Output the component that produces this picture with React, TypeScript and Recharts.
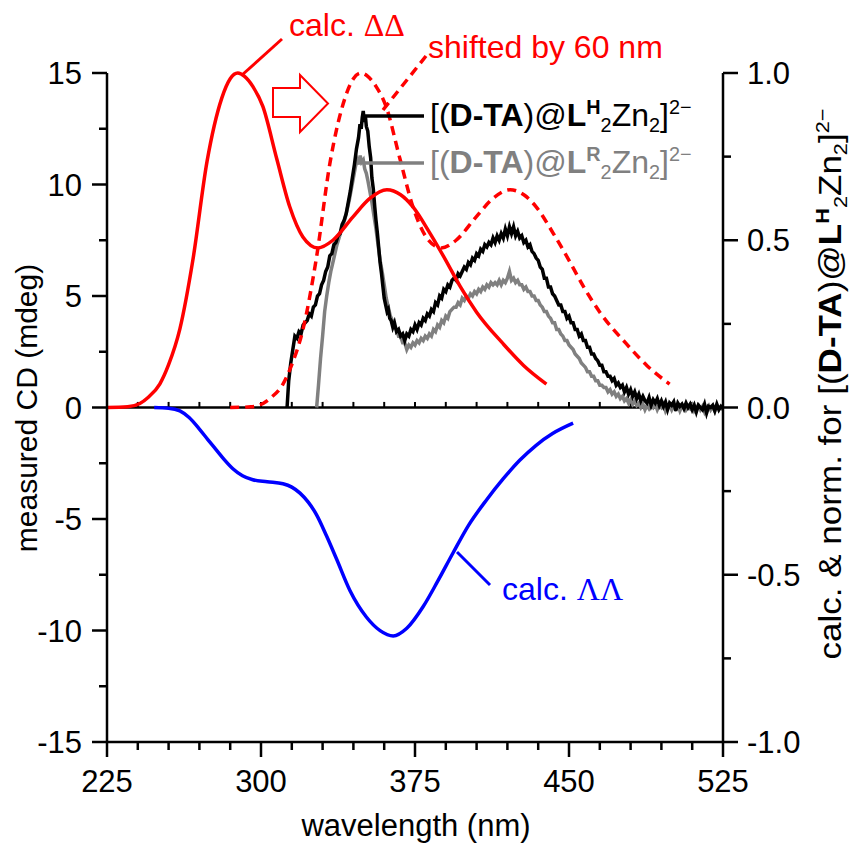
import React from 'react';
import { LineChart, Line, XAxis, YAxis, ReferenceLine } from 'recharts';

const SANS = '"Liberation Sans", Arial, sans-serif';
const SERIF = '"Liberation Serif", "Times New Roman", serif';

// ---- axes ----
const xTicks = [225, 240, 255, 270, 285, 300, 315, 330, 345, 360, 375, 390, 405, 420, 435, 450, 465, 480, 495, 510, 525];
const xLabels = [225, 300, 375, 450, 525];
const leftTicks = [-15, -12.5, -10, -7.5, -5, -2.5, 0, 2.5, 5, 7.5, 10, 12.5, 15];
const leftLabels = [-15, -10, -5, 0, 5, 10, 15];
const rightTicks = [-1, -0.75, -0.5, -0.25, 0, 0.25, 0.5, 0.75, 1];
const rightLabels = [-1, -0.5, 0, 0.5, 1];
const zeroLineTicks = [240, 255, 270, 285, 300, 315, 330, 345, 360, 375, 390, 405, 420, 435, 450, 465, 480, 495, 510];

// ---- calc. ΔΔ (normalised, right axis) ----
const calcDDnm = [225, 235, 241, 245, 250.7, 255, 260.5, 266.8, 273.7, 280.9, 285, 288.7, 292, 296, 300.9, 307.6, 314, 320.4, 327.8, 335, 344.8, 353, 361.3, 368, 374, 382.4, 390, 397, 405, 418, 428, 439];
const calcDDval = [0, 0.002, 0.012, 0.03, 0.07, 0.128, 0.235, 0.44, 0.735, 0.925, 0.983, 1.0, 0.99, 0.96, 0.9, 0.745, 0.6, 0.51, 0.477, 0.5, 0.57, 0.625, 0.651, 0.636, 0.6, 0.52, 0.44, 0.362, 0.285, 0.19, 0.125, 0.07];

// ---- calc. ΔΔ shifted by 60 nm (normalised, right axis) ----
const shiftedNm = [285, 295, 301, 305, 310.7, 315, 320.5, 326.8, 333.7, 340.9, 345, 348.7, 352, 356, 360.9, 367.6, 374, 380.4, 387.8, 395, 404.8, 413, 421.3, 428, 434, 442.4, 450, 457, 465, 478, 488, 499];
const shiftedVal = [0, 0.002, 0.012, 0.03, 0.07, 0.128, 0.235, 0.44, 0.735, 0.925, 0.983, 1.0, 0.99, 0.96, 0.9, 0.745, 0.6, 0.51, 0.477, 0.5, 0.57, 0.625, 0.651, 0.636, 0.6, 0.52, 0.44, 0.362, 0.285, 0.19, 0.125, 0.07];

// ---- calc. ΛΛ (normalised, right axis) ----
const calcLLnm = [248, 255, 260.5, 265, 270.2, 274, 278.4, 282, 286.3, 291, 296, 303, 310.7, 315, 319, 323, 327, 332, 336.8, 343.3, 351.4, 358, 364.4, 371, 379, 386, 393.5, 401, 410, 418, 426, 434, 442, 452];
const calcLLval = [0, -0.002, -0.01, -0.03, -0.066, -0.095, -0.128, -0.155, -0.183, -0.204, -0.216, -0.222, -0.228, -0.238, -0.256, -0.283, -0.32, -0.385, -0.453, -0.547, -0.627, -0.667, -0.683, -0.66, -0.595, -0.52, -0.435, -0.353, -0.275, -0.213, -0.158, -0.113, -0.078, -0.047];

// ---- measured [(D-TA)@L^H2Zn2]2- (mdeg, left axis) ----
const lhNm = [312.7, 313.5, 314.5, 315.5, 316.5, 317.5, 318.5, 319.5, 320.5, 321.5, 322.5, 323.5, 324.5, 325.5, 326.5, 327.5, 328.5, 329.5, 330.5, 331.5, 332.5, 333.5, 334.5, 335.5, 336.5, 337.5, 338.5, 339.5, 340.5, 341.5, 342.5, 343.5, 344.5, 345.5, 346.5, 347.5, 348.2, 348.8, 349.3, 349.8, 350.3, 350.8, 351.3, 352, 352.7, 353.4, 354, 354.7, 355.4, 356, 356.7, 357.4, 358, 358.7, 359.4, 360, 360.7, 361.4, 362, 362.7, 363.4, 364.2, 365, 366, 367, 368, 369, 370, 371, 372, 373, 374, 375, 376, 377, 378, 379, 380, 381, 382, 383, 384, 385, 386, 387, 388, 389, 390, 391, 392, 393, 394, 395, 396, 397, 398, 399, 400, 401, 402, 403, 404, 405, 406, 407, 408, 409, 410, 411, 412, 413, 414, 415, 416, 417, 418, 419, 420, 421, 422, 423, 424, 425, 426, 427, 428, 429, 430, 431, 432, 433, 434, 435, 436, 437, 438, 439, 440, 441, 442, 443, 444, 445, 446, 447, 448, 449, 450, 451, 452, 453, 454, 455, 456, 457, 458, 459, 460, 461, 462, 463, 464, 465, 466, 467, 468, 469, 470, 471, 472, 473, 474, 475, 476, 477, 478, 479, 480, 481, 482, 483, 484, 485, 486, 487, 488, 489, 490, 491, 492, 493, 494, 495, 496, 497, 498, 499, 500, 501, 502, 503, 504, 505, 506, 507, 508, 509, 510, 511, 512, 513, 514, 515, 516, 517, 518, 519, 520, 521, 522, 523, 524, 525];
const lhVal = [0, 1.2, 2.0, 2.6, 3.2, 3.1, 3.4, 3.3, 3.7, 3.8, 3.9, 4.2, 4.1, 4.5, 4.6, 5.0, 5.1, 5.5, 5.7, 6.1, 6.3, 6.8, 6.9, 7.3, 7.4, 7.7, 7.8, 8.2, 8.4, 8.7, 9.2, 9.7, 10.3, 10.9, 11.6, 12.1, 12.7, 12.5, 13.0, 13.3, 12.8, 13.1, 12.6, 12.4, 11.7, 11.2, 10.3, 9.8, 9.0, 8.4, 7.8, 7.1, 6.5, 6.0, 5.4, 4.9, 4.6, 4.3, 4.4, 4.0, 3.9, 3.6, 3.8, 3.4, 3.5, 3.2, 3.3, 3.0, 3.3, 3.2, 3.5, 3.4, 3.7, 3.5, 3.8, 3.7, 4.0, 3.9, 4.2, 4.1, 4.4, 4.3, 4.7, 4.6, 5.0, 4.9, 5.3, 5.2, 5.5, 5.4, 5.7, 5.8, 5.7, 6.0, 5.9, 6.1, 6.3, 6.2, 6.5, 6.4, 6.7, 6.6, 6.9, 6.8, 7.1, 7.0, 7.3, 7.2, 7.4, 7.3, 7.6, 7.4, 7.7, 7.5, 7.8, 7.6, 8.0, 7.7, 8.1, 7.8, 8.1, 7.7, 7.9, 7.6, 7.7, 7.4, 7.5, 7.2, 7.3, 7.0, 6.9, 6.7, 6.6, 6.3, 6.2, 5.8, 5.8, 5.4, 5.4, 5.1, 5.0, 4.8, 4.6, 4.6, 4.3, 4.3, 4.0, 4.1, 3.8, 3.8, 3.5, 3.5, 3.2, 3.3, 3.0, 3.0, 2.7, 2.7, 2.4, 2.4, 2.2, 2.1, 1.9, 1.9, 1.6, 1.6, 1.4, 1.4, 1.2, 1.3, 1.0, 1.1, 0.9, 1.0, 0.7, 0.9, 0.6, 0.8, 0.5, 0.7, 0.4, 0.6, 0.3, 0.5, 0.3, 0.2, 0.45, 0.1, 0.35, 0.2, 0.4, 0.1, 0.3, 0.05, 0.25, -0.1, 0.2, 0.1, 0.25, -0.15, 0.2, 0.05, 0.15, -0.05, 0.2, 0.0, 0.15, -0.1, 0.1, -0.2, 0.1, 0.0, -0.1, 0.15, -0.25, 0.05, 0.0, 0.1, -0.15, 0.15, -0.1, 0.05, -0.05];

// ---- measured [(D-TA)@L^R2Zn2]2- (mdeg, left axis) ----
const lrNm = [327.1, 328, 329, 330, 331, 332, 333, 334, 335, 336, 337, 338, 339, 340, 341, 342, 343, 344, 345, 346, 346.8, 347.5, 348.3, 349, 349.8, 350.5, 351.3, 352, 353, 354, 355, 356, 357, 358, 359, 360, 361, 362, 363, 364, 365, 366, 367, 368, 369, 370, 371, 372, 373, 374, 375, 376, 377, 378, 379, 380, 381, 382, 383, 384, 385, 386, 387, 388, 389, 390, 391, 392, 393, 394, 395, 396, 397, 398, 399, 400, 401, 402, 403, 404, 405, 406, 407, 408, 409, 410, 411, 412, 413, 414, 415, 416, 417, 418, 419, 420, 421, 422, 423, 424, 425, 426, 427, 428, 429, 430, 431, 432, 433, 434, 435, 436, 437, 438, 439, 440, 441, 442, 443, 444, 445, 446, 447, 448, 449, 450, 451, 452, 453, 454, 455, 456, 457, 458, 459, 460, 461, 462, 463, 464, 465, 466, 467, 468, 469, 470, 471, 472, 473, 474, 475, 476, 477, 478, 479, 480, 481, 482, 483, 484, 485, 486, 487, 488, 489, 490, 491, 492, 493, 494, 495, 496, 497, 498, 499, 500, 501, 502, 503, 504, 505, 506, 507, 508, 509, 510, 511, 512, 513, 514, 515, 516, 517, 518, 519, 520, 521, 522, 523, 524, 525];
const lrVal = [0, 1.0, 2.2, 3.2, 4.3, 5.0, 5.6, 6.1, 6.5, 6.9, 7.3, 7.6, 7.9, 8.2, 8.5, 8.9, 9.3, 9.8, 10.3, 10.8, 11.1, 10.9, 11.3, 11.0, 11.1, 10.7, 10.5, 10.2, 9.7, 9.2, 8.6, 8.0, 7.3, 6.6, 6.1, 5.5, 4.9, 4.5, 4.1, 3.9, 3.6, 3.5, 3.2, 3.2, 2.9, 2.9, 2.6, 2.8, 2.7, 2.9, 2.8, 3.0, 2.9, 3.1, 3.0, 3.2, 3.1, 3.3, 3.2, 3.5, 3.4, 3.7, 3.6, 3.9, 3.8, 4.1, 4.0, 4.3, 4.4, 4.5, 4.5, 4.7, 4.6, 4.9, 4.8, 5.0, 4.9, 5.1, 5.0, 5.2, 5.1, 5.3, 5.2, 5.4, 5.3, 5.5, 5.4, 5.6, 5.5, 5.6, 5.5, 5.7, 5.5, 5.7, 5.6, 5.8, 6.1, 5.7, 5.8, 5.6, 5.7, 5.5, 5.5, 5.3, 5.4, 5.2, 5.2, 5.0, 5.0, 4.8, 4.8, 4.6, 4.5, 4.3, 4.3, 4.1, 4.0, 3.8, 3.8, 3.5, 3.5, 3.3, 3.2, 3.0, 3.0, 2.8, 2.7, 2.6, 2.4, 2.3, 2.2, 2.0, 1.9, 1.8, 1.6, 1.6, 1.4, 1.4, 1.2, 1.2, 1.0, 1.0, 0.9, 0.9, 0.7, 0.8, 0.6, 0.7, 0.5, 0.6, 0.4, 0.5, 0.3, 0.4, 0.2, 0.35, 0.15, 0.3, 0.1, 0.2, 0.0, 0.15, -0.1, 0.1, -0.05, 0.1, 0.0, 0.15, -0.1, 0.1, 0.0, 0.15, -0.15, 0.05, 0.1, -0.1, 0.1, -0.05, 0.1, -0.15, 0.05, 0.1, -0.1, 0.05, -0.05, 0.1, -0.15, 0.0, 0.1, -0.1, 0.05, -0.2, 0.0, 0.1, -0.1, 0.05, -0.15, 0.1, -0.05, 0.0, -0.1];

const zip = (xs: number[], ys: number[]) => xs.map((x, i) => ({ x, y: ys[i] }));
const calcDD = zip(calcDDnm, calcDDval);
const shifted = zip(shiftedNm, shiftedVal);
const calcLL = zip(calcLLnm, calcLLval);
const measLH = zip(lhNm, lhVal);
const measLR = zip(lrNm, lrVal);

const AX = { stroke: '#000', strokeWidth: 2.5 };
const LW = 3.5;

const XTick = (props: any) => {
  const { x, y, payload } = props;
  const v = payload.value;
  const major = xLabels.includes(v);
  return (
    <g>
      <line x1={x} y1={y} x2={x} y2={y + (major ? 15 : 8)} stroke="#000" strokeWidth={2.5} />
      {major && (
        <text x={x} y={y + 50} textAnchor="middle" fontSize={31} fontFamily={SANS} fill="#000">{v}</text>
      )}
    </g>
  );
};

const LeftTick = (props: any) => {
  const { x, y, payload } = props;
  const v = payload.value;
  const major = leftLabels.includes(v);
  return (
    <g>
      <line x1={x - (major ? 15 : 8)} y1={y} x2={x} y2={y} stroke="#000" strokeWidth={2.5} />
      {major && (
        <text x={x - 25} y={y + 11} textAnchor="end" fontSize={31} fontFamily={SANS} fill="#000">{v}</text>
      )}
    </g>
  );
};

const RightTick = (props: any) => {
  const { x, y, payload } = props;
  const v = payload.value;
  const major = rightLabels.includes(v);
  return (
    <g>
      <line x1={x} y1={y} x2={x + (major ? 15 : 8)} y2={y} stroke="#000" strokeWidth={2.5} />
      {major && (
        <text x={x + 24} y={y + 11} textAnchor="start" fontSize={31} fontFamily={SANS} fill="#000">{v.toFixed(1)}</text>
      )}
    </g>
  );
};

const Formula = ({ sup }: { sup: string }) => (
  <>
    <tspan>[(</tspan>
    <tspan fontWeight="bold">D-TA</tspan>
    <tspan>)@</tspan>
    <tspan fontWeight="bold">L</tspan>
    <tspan fontWeight="bold" fontSize="0.62em" dy={-12}>{sup}</tspan>
    <tspan fontSize="0.62em" dy={18}>2</tspan>
    <tspan dy={-6}>Zn</tspan>
    <tspan fontSize="0.62em" dy={6}>2</tspan>
    <tspan dy={-6}>]</tspan>
    <tspan fontSize="0.62em" dy={-12}>2−</tspan>
  </>
);

const Overlay = () => (
  <svg width={851} height={845} style={{ position: 'absolute', left: 0, top: 0, pointerEvents: 'none' }}>
    {/* calc ΔΔ annotation */}
    <line x1={242} y1={75} x2={282} y2={39} stroke="#ff0000" strokeWidth={3} />
    <text x={289} y={36} fontSize={32} fontFamily={SANS} fill="#ff0000">
      calc. <tspan fontFamily={SERIF}>ΔΔ</tspan>
    </text>
    {/* shifted annotation */}
    <line x1={383} y1={110} x2={426} y2={56} stroke="#ff0000" strokeWidth={3.5} strokeDasharray="9 6" />
    <text x={428} y={58} fontSize={32} fontFamily={SANS} fill="#ff0000">shifted by 60 nm</text>
    {/* hollow arrow */}
    <polygon points="273,88 300,88 300,75 328,103.5 300,132 300,117 273,117" fill="#fff" stroke="#ff0000" strokeWidth={2} />
    {/* legend */}
    <line x1={365} y1={116} x2={424} y2={116} stroke="#000" strokeWidth={LW} />
    <text x={430} y={126} fontSize={32} fontFamily={SANS} fill="#000"><Formula sup="H" /></text>
    <line x1={365} y1={163} x2={424} y2={163} stroke="#808080" strokeWidth={LW} />
    <text x={430} y={173} fontSize={32} fontFamily={SANS} fill="#808080"><Formula sup="R" /></text>
    {/* calc ΛΛ annotation */}
    <line x1={457} y1={552} x2={490} y2={585} stroke="#0000ff" strokeWidth={3} />
    <text x={502} y={600} fontSize={32} fontFamily={SANS} fill="#0000ff">
      calc. <tspan fontFamily={SERIF}>ΛΛ</tspan>
    </text>
    {/* axis titles */}
    <text transform="translate(37,408) rotate(-90)" textAnchor="middle" fontSize={30} fontFamily={SANS} fill="#000">measured CD (mdeg)</text>
    <text x={416} y={836} textAnchor="middle" fontSize={31} fontFamily={SANS} fill="#000">wavelength (nm)</text>
    <text transform="translate(841,384) rotate(-90) scale(1.13,1)" textAnchor="middle" fontSize={31} fontFamily={SANS} fill="#000">
      calc. &amp; norm. for <Formula sup="H" />
    </text>
  </svg>
);

export default function App() {
  return (
    <div style={{ position: 'absolute', left: 0, top: 0, width: 851, height: 845, background: '#fff' }}>
      <LineChart width={851} height={845} margin={{ top: 73, right: 0, bottom: 0, left: 0 }}>
        <XAxis
          type="number"
          dataKey="x"
          domain={[225, 525]}
          ticks={xTicks}
          interval={0}
          allowDataOverflow
          height={103}
          tickSize={0}
          tickMargin={0}
          tickLine={false}
          axisLine={AX}
          tick={<XTick />}
        />
        <YAxis
          yAxisId="left"
          type="number"
          domain={[-15, 15]}
          ticks={leftTicks}
          interval={0}
          width={107}
          tickSize={0}
          tickMargin={0}
          tickLine={false}
          axisLine={AX}
          tick={<LeftTick />}
        />
        <YAxis
          yAxisId="right"
          orientation="right"
          type="number"
          domain={[-1, 1]}
          ticks={rightTicks}
          interval={0}
          width={128}
          tickSize={0}
          tickMargin={0}
          tickLine={false}
          axisLine={AX}
          tick={<RightTick />}
        />
        <ReferenceLine yAxisId="left" y={0} stroke="#000" strokeWidth={2.5} />
        {zeroLineTicks.map((t) => (
          <ReferenceLine
            key={t}
            yAxisId="left"
            segment={[{ x: t, y: 0 }, { x: t, y: 0.25 }]}
            stroke="#000"
            strokeWidth={2}
          />
        ))}
        <Line yAxisId="left" data={measLR} dataKey="y" type="linear" stroke="#808080" strokeWidth={LW} dot={false} isAnimationActive={false} />
        <Line yAxisId="left" data={measLH} dataKey="y" type="linear" stroke="#000" strokeWidth={LW} dot={false} isAnimationActive={false} />
        <Line yAxisId="right" data={shifted} dataKey="y" type="monotone" stroke="#ff0000" strokeWidth={LW} strokeDasharray="9 6" dot={false} isAnimationActive={false} />
        <Line yAxisId="right" data={calcDD} dataKey="y" type="monotone" stroke="#ff0000" strokeWidth={LW} dot={false} isAnimationActive={false} />
        <Line yAxisId="right" data={calcLL} dataKey="y" type="monotone" stroke="#0000ff" strokeWidth={LW} dot={false} isAnimationActive={false} />
      </LineChart>
      <Overlay />
    </div>
  );
}
